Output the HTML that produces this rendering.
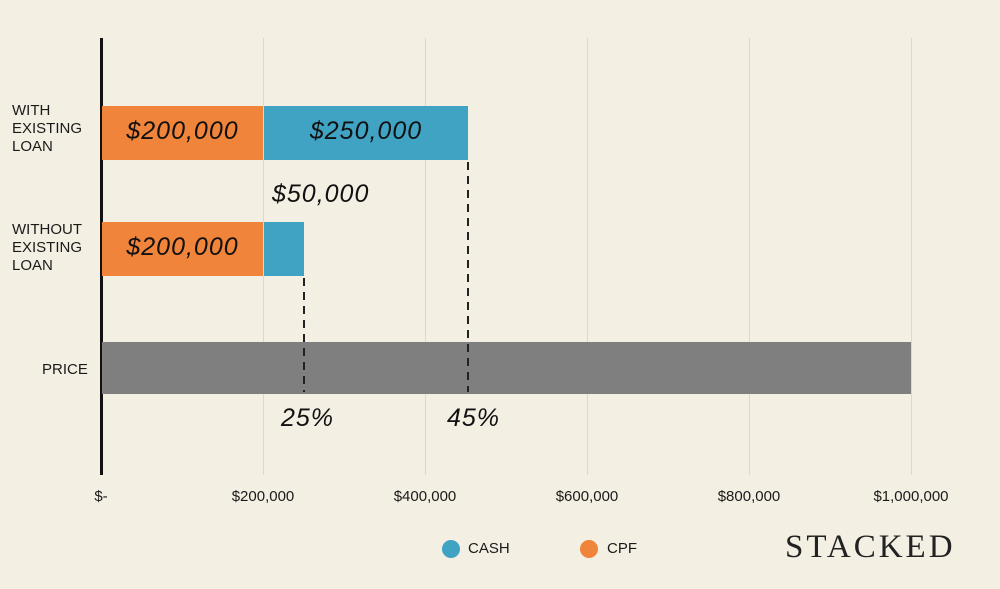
<!DOCTYPE html>
<html><head><meta charset="utf-8"><style>
body{margin:0;width:1000px;height:589px;background:#f4efe3;position:relative;overflow:hidden;font-family:"Liberation Sans",sans-serif;color:#1a1a1a}
div{position:absolute}
.g{top:38px;height:437px;width:1px;background:#ddd8cb}
.lab{font-size:15px;line-height:18px;left:12px}
.hw{font-style:italic;font-size:25px;color:#111;letter-spacing:1px;text-align:center}
.tick{top:488px;font-size:15px;width:120px;text-align:center}
.dash{width:2px;background:repeating-linear-gradient(to bottom,#222 0 8px,transparent 8px 14px)}
</style></head><body>
<div class="g" style="left:263px"></div>
<div class="g" style="left:425px"></div>
<div class="g" style="left:587px"></div>
<div class="g" style="left:749px"></div>
<div class="g" style="left:911px"></div>
<div style="left:100px;top:38px;width:3px;height:437px;background:#111"></div>

<div class="lab" style="top:102px">WITH<br>EXISTING<br>LOAN</div>
<div class="lab" style="top:221px">WITHOUT<br>EXISTING<br>LOAN</div>
<div class="lab" style="top:361px;left:42px">PRICE</div>

<div style="left:102px;top:106px;width:161px;height:54px;background:#f0843a"></div>
<div style="left:264px;top:106px;width:204px;height:54px;background:#41a3c4"></div>
<div style="left:102px;top:222px;width:161px;height:54px;background:#f0843a"></div>
<div style="left:264px;top:222px;width:40px;height:54px;background:#41a3c4"></div>
<div style="left:102px;top:342px;width:809px;height:52px;background:#7f7f7f"></div>

<div class="hw" style="left:102px;top:117px;width:161px">$200,000</div>
<div class="hw" style="left:264px;top:117px;width:204px">$250,000</div>
<div class="hw" style="left:102px;top:233px;width:161px">$200,000</div>
<div class="hw" style="left:272px;top:180px">$50,000</div>
<div class="hw" style="left:281px;top:404px">25%</div>
<div class="hw" style="left:447px;top:404px">45%</div>

<div class="dash" style="left:467px;top:162px;height:230px"></div>
<div class="dash" style="left:303px;top:278px;height:114px"></div>

<div class="tick" style="left:41px">$-</div>
<div class="tick" style="left:203px">$200,000</div>
<div class="tick" style="left:365px">$400,000</div>
<div class="tick" style="left:527px">$600,000</div>
<div class="tick" style="left:689px">$800,000</div>
<div class="tick" style="left:851px">$1,000,000</div>

<div style="left:442px;top:540px;width:18px;height:18px;border-radius:50%;background:#41a3c4"></div>
<div style="left:468px;top:540px;font-size:15px">CASH</div>
<div style="left:580px;top:540px;width:18px;height:18px;border-radius:50%;background:#f0843a"></div>
<div style="left:607px;top:540px;font-size:15px">CPF</div>
<div style="left:785px;top:529px;font-family:'Liberation Serif',serif;font-size:33px;letter-spacing:3px;color:#222">STACKED</div>
</body></html>
